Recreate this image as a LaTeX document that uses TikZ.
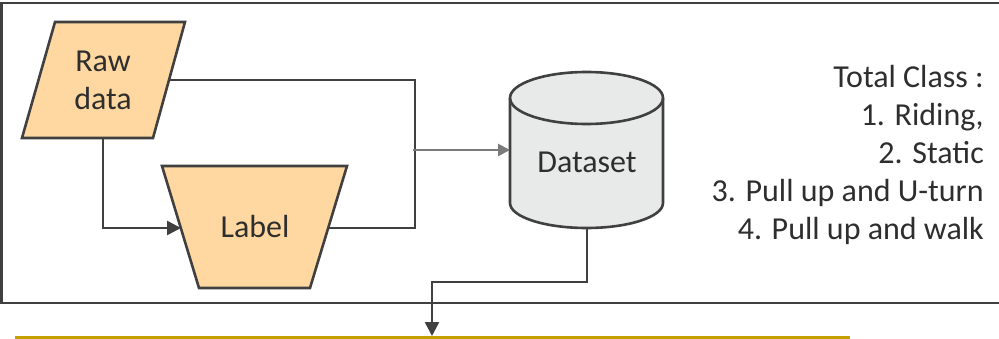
\documentclass[tikz,border=0pt]{standalone}
\usepackage{fontspec}
\setmainfont{Carlito}
\usetikzlibrary{arrows.meta}
\definecolor{linec}{HTML}{404040}
\definecolor{peach}{HTML}{FFD8A1}
\definecolor{cylfill}{HTML}{E8E9E9}
\definecolor{txt}{HTML}{2E2E2E}
\definecolor{grayarrow}{HTML}{7A7A7A}
\definecolor{olive}{HTML}{C4A000}
\tikzset{
  conn/.style={draw=linec, line width=2.6pt},
  darrow/.style={conn, -{Triangle[length=14pt,width=14pt]}},
  garrow/.style={draw=grayarrow, line width=2.6pt, -{Triangle[length=12pt,width=12pt]}},
  shapeln/.style={draw=linec, line width=2.6pt, line join=miter},
  lbl/.style={font=\fontsize{32}{38}\selectfont, text=txt, inner sep=0pt},
}
\begin{document}
\begin{tikzpicture}[x=1pt,y=-1pt]
\useasboundingbox (0,0) rectangle (999,339);
\clip (0,0) rectangle (999,339);
\fill[white] (0,0) rectangle (999,339);
% outer frame
\draw[draw=linec, line width=2.6pt] (1.5,3) rectangle (1020,303);
% raw data parallelogram
\filldraw[shapeln, fill=peach] (55,22) -- (185,22) -- (153,138) -- (22,138) -- cycle;
\node[lbl, anchor=base] (raw) at (103,72) {Raw};
\node[lbl, anchor=base] (rawb) at (103,110) {data};
\coordinate (rawR) at (169,80);
\coordinate (rawB) at (103,138);
% label trapezoid
\filldraw[shapeln, fill=peach] (162,166) -- (347,166) -- (310,288) -- (199,288) -- cycle;
\node[lbl, anchor=base] (label) at (255,238) {Label};
\coordinate (labL) at (181,228);
\coordinate (labR) at (328,228);
% dataset cylinder
\filldraw[shapeln, fill=cylfill] (510,98) -- (510,203) arc[start angle=180, end angle=0, x radius=76.5, y radius=25] -- (663,98) arc[start angle=0, end angle=-180, x radius=76.5, y radius=26] -- cycle;
\draw[shapeln] (510,98) arc[start angle=180, end angle=0, x radius=76.5, y radius=26];
\node[lbl, anchor=base] (ds) at (587,173) {Dataset};
\coordinate (dsL) at (510,150);
\coordinate (dsB) at (587,228);
% connectors
\coordinate (j1) at (415,80);
\coordinate (j2) at (415,228);
\draw[conn] (rawR) -- (j1) -- (j2) -- (labR);
\draw[darrow] (rawB) |- (labL);
\coordinate (g0) at (413,150);
\draw[garrow] (g0) -- (dsL);
\coordinate (d1) at (587,282);
\coordinate (d2) at (432,282);
\coordinate (d3) at (432,336);
\draw[darrow] (dsB) -- (d1) -- (d2) -- (d3);
% olive rule
\coordinate (o1) at (15,337.5);
\coordinate (o2) at (850,337.5);
\draw[olive, line width=3pt] (o1) -- (o2);
% class list
\node[lbl, anchor=base east] (tc1) at (984,88) {Total Class :};
\node[lbl, anchor=base east] (tc2) at (984,126) {1. Riding,};
\node[lbl, anchor=base east] (tc3) at (984,164) {2. Static};
\node[lbl, anchor=base east] (tc4) at (984,202) {3. Pull up and U-turn};
\node[lbl, anchor=base east] (tc5) at (984,240) {4. Pull up and walk};
\end{tikzpicture}
\end{document}
